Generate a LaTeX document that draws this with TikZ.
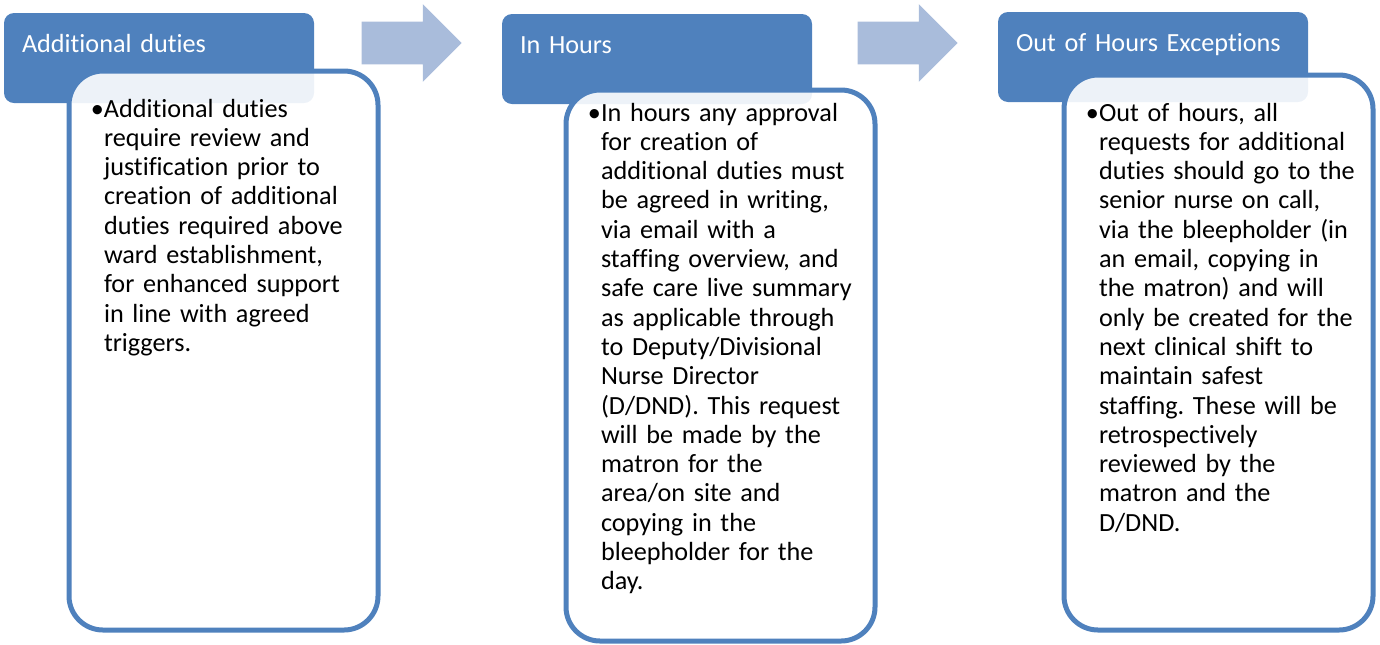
\documentclass[tikz,border=0pt]{standalone}
\usepackage{fontspec}
\setmainfont{Carlito}[Ligatures=NoCommon]
\usetikzlibrary{shapes.arrows}
\definecolor{headblue}{RGB}{79,129,189}
\definecolor{arrowblue}{RGB}{169,188,219}

\begin{document}
\begin{tikzpicture}[x=0.5pt, y=-0.5pt]
	\tikzstyle{every node}=[font=\fontsize{13.1}{14.65}\selectfont, outer sep=0pt]
	\tikzstyle{head}=[anchor=north west, fill=headblue, text=white, rounded corners=5pt,
		text width=137pt, align=left, inner xsep=9pt, inner ysep=0pt,
		text height=19.5pt, text depth=25.5pt]
	\tikzstyle{body}=[anchor=north west, draw=headblue, line width=2.5pt, fill=white,
		fill opacity=0.9, text opacity=1, rounded corners=17pt,
		text width=119.5pt, align=left, inner xsep=17.5pt, inner ysep=0pt]
	\tikzstyle{flow}=[single arrow, fill=arrowblue, minimum height=50pt, inner sep=10.5pt,
		single arrow head extend=8.75pt, single arrow head indent=0pt]

	\useasboundingbox (0,0) rectangle (1380,644);

	\node [head] (head1) at (4,13) {Additional duties};
	\node [head] (head2) at (502,14) {In Hours};
	\node [head] (head3) at (998,12) {Out of Hours Exceptions};

	\node [flow] (arr1) at (401,43) {};
	\node [flow] (arr2) at (897,43) {};

	% first column
	\node [body, text height=23pt, text depth=256.5pt] (body1) at (69,71) {%
		\begin{tabular}[t]{@{}l@{}}
		\llap{•}Additional duties\\
		require review and\\
		justification prior to\\
		creation of additional\\
		duties required above\\
		ward establishment,\\
		for enhanced support\\
		in line with agreed\\
		triggers.
		\end{tabular}};

	% second column
	\node [body, text height=15.5pt, text depth=260pt] (body2) at (566,90) {%
		\begin{tabular}[t]{@{}l@{}}
		\llap{•}In hours any approval\\
		for creation of\\
		additional duties must\\
		be agreed in writing,\\
		via email with a\\
		staffing overview, and\\
		safe care live summary\\
		as applicable through\\
		to Deputy/Divisional\\
		Nurse Director\\
		(D/DND).\ This request\\
		will be made by the\\
		matron for the\\
		area/on site and\\
		copying in the\\
		bleepholder for the\\
		day.
		\end{tabular}};

	% third column
	\node [body, text height=23pt, text depth=254.5pt] (body3) at (1064,75) {%
		\begin{tabular}[t]{@{}l@{}}
		\llap{•}Out of hours, all\\
		requests for additional\\
		duties should go to the\\
		senior nurse on call,\\
		via the bleepholder (in\\
		an email, copying in\\
		the matron) and will\\
		only be created for the\\
		next clinical shift to\\
		maintain safest\\
		staffing.\ These will be\\
		retrospectively\\
		reviewed by the\\
		matron and the\\
		D/DND.
		\end{tabular}};

\end{tikzpicture}
\end{document}
